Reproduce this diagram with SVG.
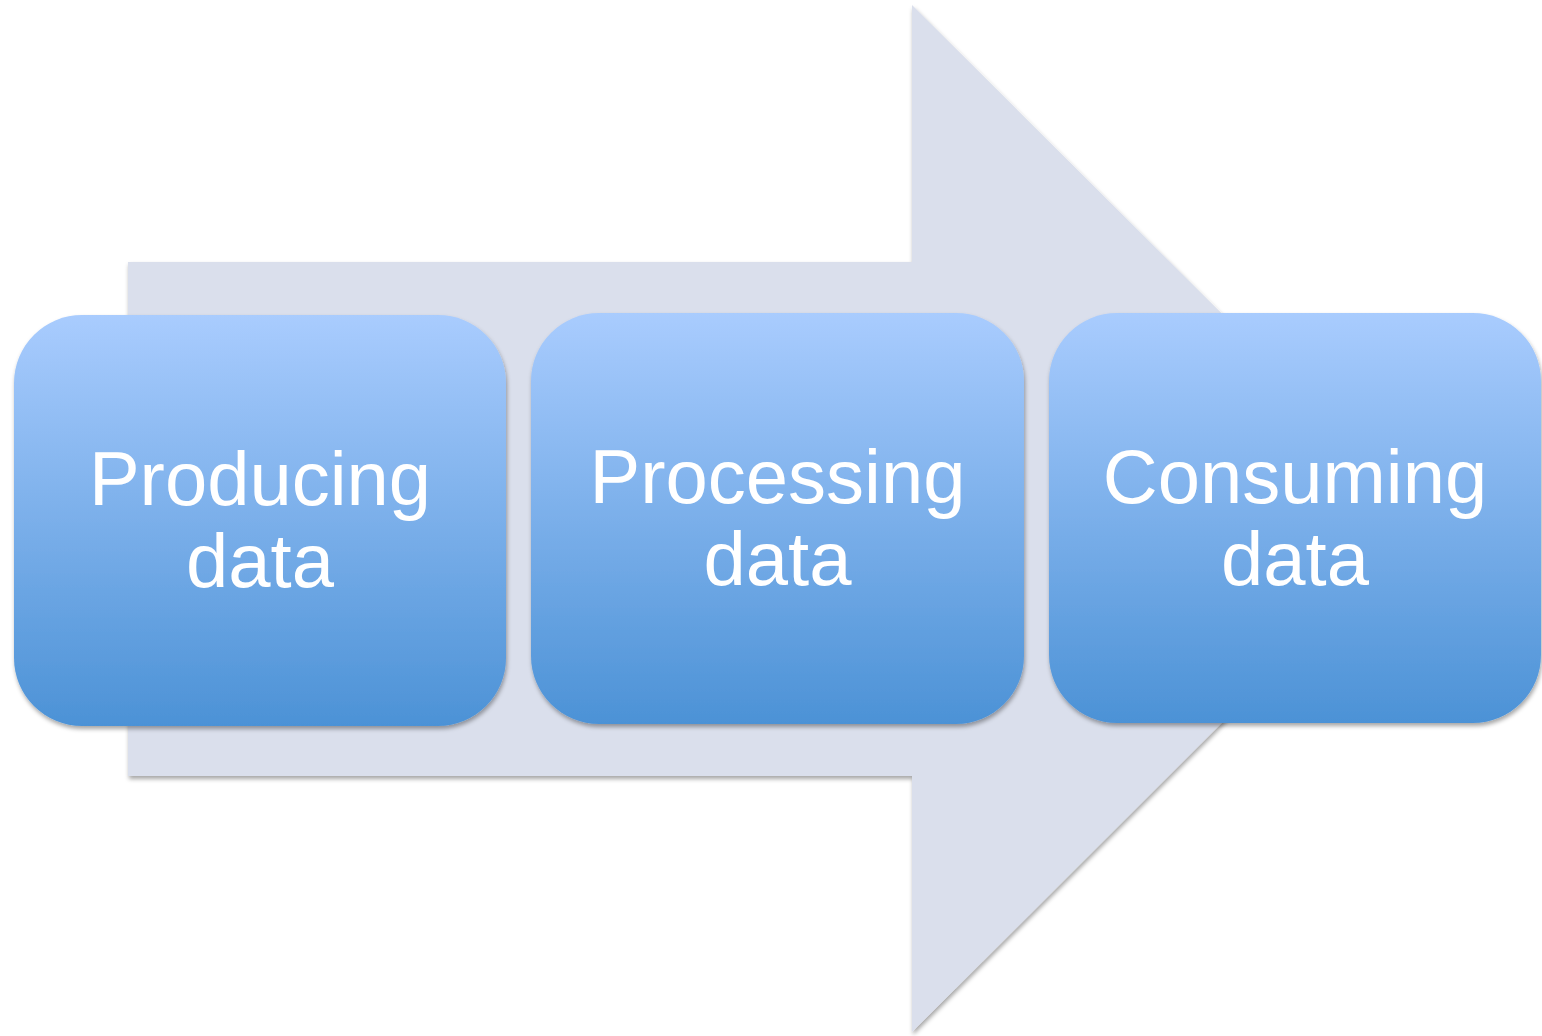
<svg xmlns="http://www.w3.org/2000/svg" width="1542" height="1036" viewBox="0 0 1542 1036">
<defs>
<linearGradient id="g" x1="0" y1="0" x2="0" y2="1">
<stop offset="0" stop-color="#A9CCFE"/>
<stop offset="1" stop-color="#4C92D6"/>
</linearGradient>
<filter id="sh" x="-10%" y="-10%" width="120%" height="120%">
<feDropShadow dx="1" dy="3" stdDeviation="2" flood-color="#000" flood-opacity="0.35"/>
</filter>
<style>
.box{fill:url(#g);filter:url(#sh);}
.t{font-family:"Liberation Sans",Arial,sans-serif;font-size:76px;fill:#fff;text-anchor:middle;}
</style>
</defs>
<g id="arrow">
<path d="M128,262 L912,262 L912,5 L1427,518 L912,1032 L912,776 L128,776 Z" fill="#DADFEC" filter="url(#sh)"/>
</g>
<g id="connectors"></g>
<g id="n1">
<rect class="box" x="14" y="315" width="492" height="411" rx="68"/>
<text class="t" x="260" y="505">Producing</text>
<text class="t" x="260" y="587">data</text>
</g>
<g id="n2">
<rect class="box" x="531" y="313" width="493" height="411" rx="68"/>
<text class="t" x="777.5" y="503">Processing</text>
<text class="t" x="777.5" y="585">data</text>
</g>
<g id="n3">
<rect class="box" x="1049" y="313" width="492" height="410" rx="68"/>
<text class="t" x="1295" y="503">Consuming</text>
<text class="t" x="1295" y="585">data</text>
</g>
</svg>
